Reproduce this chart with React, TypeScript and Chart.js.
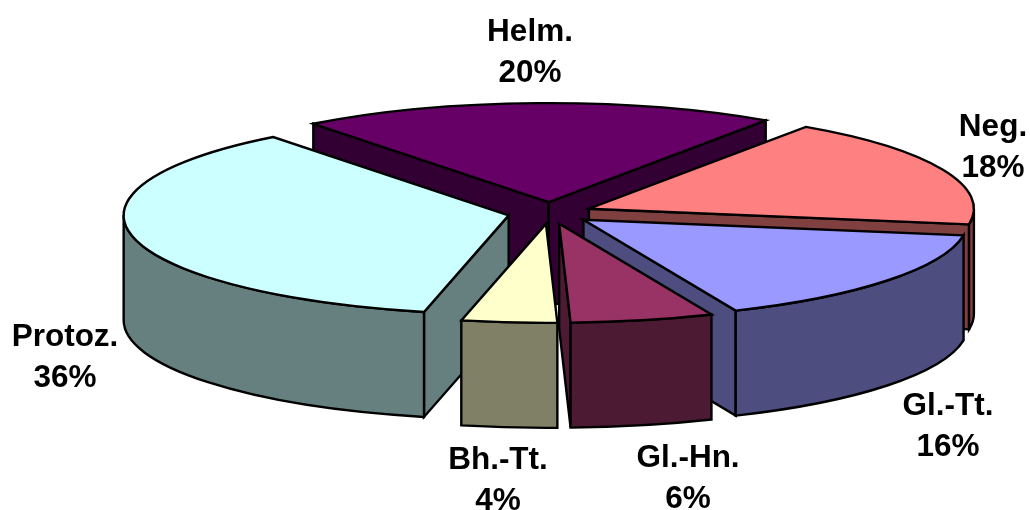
import React, { useEffect, useRef } from "react";
import { Chart, registerables } from "chart.js";

Chart.register(...registerables);

// Slices in clockwise order, starting from the back of the pie.
const categories = ["Helm.", "Neg.", "Gl.-Tt.", "Gl.-Hn.", "Bh.-Tt.", "Protoz."];
const shares = [20, 18, 16, 6, 4, 36];
const topColors = ["#660066", "#FF8080", "#9999FF", "#993366", "#FFFFCC", "#CCFFFF"];
const wallColors = ["#330033", "#804040", "#4D4D80", "#4D1A33", "#808066", "#668080"];

// Back-to-front painting order for the extruded slices.
const paintOrder = [0, 1, 5, 2, 3, 4];

// Centre of each two-line label.
const labelAnchors = [
  [530, 41],
  [993, 136],
  [948, 415],
  [688, 467],
  [498, 469],
  [65, 346],
];

const WIDTH = 1030;
const HEIGHT = 510;
const CENTER_X = 550;
const CENTER_Y = 213;
const RADIUS_X = 385;
const RADIUS_Y = 99;
const DEPTH = 105;
const EXPLODE = 0.11;
const LINE_HEIGHT = 41;

const pie3d = {
  id: "pie3d",
  beforeDatasetsDraw(chart: any) {
    const ctx: CanvasRenderingContext2D = chart.ctx;
    const arcs = chart.getDatasetMeta(0).data;
    ctx.save();
    ctx.lineWidth = 2.4;
    ctx.strokeStyle = "#000";
    ctx.lineJoin = "miter";

    for (const i of paintOrder) {
      const arc = arcs[i];
      const { startAngle: start, endAngle: end, outerRadius: r } = arc;
      const sx = RADIUS_X / r;
      const sy = RADIUS_Y / r;
      const mid = (start + end) / 2;
      const ax = CENTER_X + Math.cos(mid) * EXPLODE * RADIUS_X;
      const ay = CENTER_Y + Math.sin(mid) * EXPLODE * RADIUS_Y;

      // Flat cut faces from the apex to the rim, skipping those turned away.
      ctx.fillStyle = wallColors[i];
      const cuts = [
        { angle: start, visible: Math.cos(start) < 0 },
        { angle: end, visible: Math.cos(end) > 0 },
      ];
      for (const { angle, visible } of cuts) {
        if (!visible) continue;
        const ex = ax + Math.cos(angle) * RADIUS_X;
        const ey = ay + Math.sin(angle) * RADIUS_Y;
        ctx.beginPath();
        ctx.moveTo(ax, ay);
        ctx.lineTo(ex, ey);
        ctx.lineTo(ex, ey + DEPTH);
        ctx.lineTo(ax, ay + DEPTH);
        ctx.closePath();
        ctx.fill();
        ctx.stroke();
      }

      // Curved rim, only on the part that faces the viewer.
      const lo = Math.max(start, 0);
      const hi = Math.min(end, Math.PI);
      if (hi > lo) {
        ctx.beginPath();
        ctx.ellipse(ax, ay, RADIUS_X, RADIUS_Y, 0, lo, hi);
        ctx.ellipse(ax, ay + DEPTH, RADIUS_X, RADIUS_Y, 0, hi, lo, true);
        ctx.closePath();
        ctx.fill();
        ctx.stroke();
      }

      // Top face: the library's arc, flattened into an ellipse.
      ctx.save();
      ctx.translate(ax, ay);
      ctx.scale(sx, sy);
      ctx.translate(-arc.x, -arc.y);
      arc.draw(ctx);
      ctx.restore();

      ctx.beginPath();
      ctx.moveTo(ax, ay);
      ctx.ellipse(ax, ay, RADIUS_X, RADIUS_Y, 0, start, end);
      ctx.closePath();
      ctx.stroke();
    }
    ctx.restore();
    return false;
  },
  afterDraw(chart: any) {
    const ctx: CanvasRenderingContext2D = chart.ctx;
    ctx.save();
    ctx.fillStyle = "#000";
    ctx.font = 'bold 31.5px "Liberation Sans", Arial, sans-serif';
    ctx.textAlign = "center";
    ctx.textBaseline = "alphabetic";
    categories.forEach((name, i) => {
      const [x, y] = labelAnchors[i];
      ctx.fillText(name, x, y);
      ctx.fillText(`${shares[i]}%`, x, y + LINE_HEIGHT);
    });
    ctx.restore();
  },
};

export default function App() {
  const canvasRef = useRef<HTMLCanvasElement>(null);

  useEffect(() => {
    document.body.style.margin = "0";
    const chart = new Chart(canvasRef.current!, {
      type: "pie",
      data: {
        labels: categories,
        datasets: [
          {
            data: shares,
            backgroundColor: topColors,
            borderWidth: 0,
          },
        ],
      },
      options: {
        animation: false,
        responsive: false,
        radius: 200,
        rotation: -37.7,
        plugins: {
          legend: { display: false },
          tooltip: { enabled: false },
        },
      },
      plugins: [pie3d],
    } as any);
    return () => chart.destroy();
  }, []);

  return (
    <canvas
      ref={canvasRef}
      width={WIDTH}
      height={HEIGHT}
      style={{ display: "block", background: "#fff" }}
    />
  );
}
